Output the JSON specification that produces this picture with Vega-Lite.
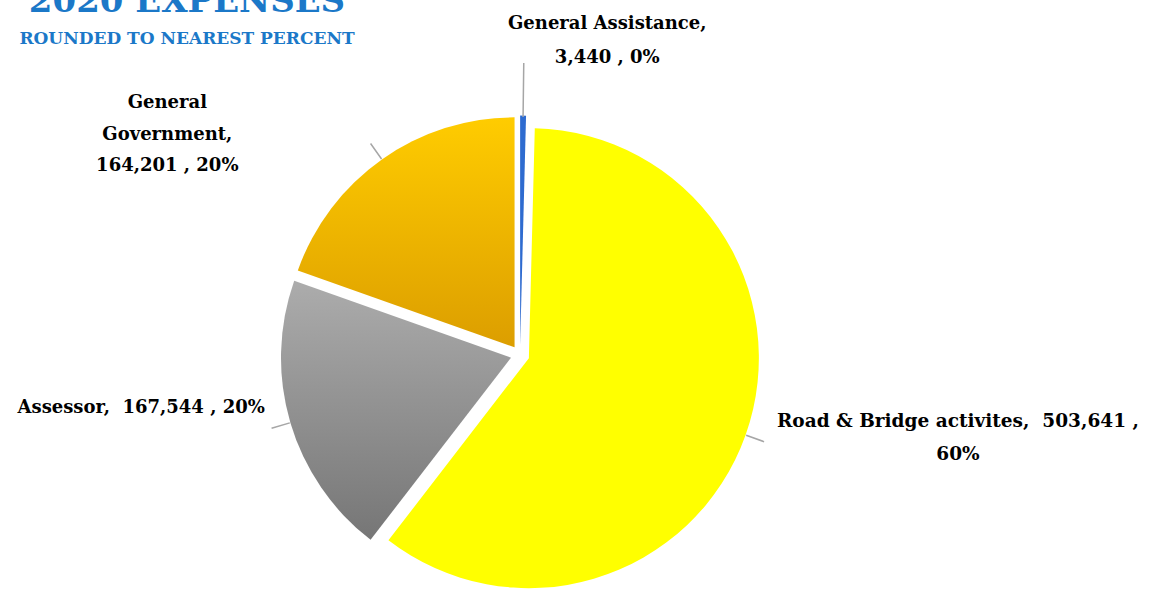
{
  "$schema": "https://vega.github.io/schema/vega-lite/v6.json",
  "autosize": {"type": "none"},
  "width": 666,
  "height": 472,
  "padding": {"left": 187, "top": 119, "right": 296, "bottom": 0},
  "background": "white",
  "config": {"view": {"stroke": null}},
  "title": {
    "text": "2020 EXPENSES",
    "subtitle": "ROUNDED TO NEAREST PERCENT",
    "anchor": "start",
    "align": "center",
    "frame": "group",
    "offset": -32,
    "font": "DejaVu Serif",
    "fontSize": 34,
    "fontWeight": "bold",
    "color": "#1b78c8",
    "subtitleFont": "DejaVu Serif",
    "subtitleFontSize": 17,
    "subtitleFontWeight": "bold",
    "subtitleColor": "#1b78c8",
    "subtitlePadding": 12
  },
  "data": {
    "values": [
      {"category": "General Assistance", "value": 3440, "order": 1},
      {"category": "Road & Bridge activites", "value": 503641, "order": 2},
      {"category": "Assessor", "value": 167544, "order": 3},
      {"category": "General Government", "value": 164201, "order": 4}
    ]
  },
  "transform": [
    {"stack": "value", "groupby": [], "sort": [{"field": "order", "order": "ascending"}], "as": ["v0", "v1"]},
    {"joinaggregate": [{"op": "sum", "field": "value", "as": "total"}]},
    {"calculate": "(datum.v0 + datum.v1) / 2", "as": "mid"},
    {"calculate": "format(datum.value / datum.total, '.0%')", "as": "pct"},
    {"calculate": "format(datum.value, ',')", "as": "vfmt"}
  ],
  "layer": [
    {
      "transform": [{"filter": "datum.order == 1"}],
      "mark": {"type": "arc", "radius": 230, "xOffset": 0.12, "yOffset": -9.4, "color": "#2e6bd0"},
      "encoding": {"theta": {"field": "v1", "type": "quantitative", "stack": null}, "theta2": {"field": "v0"}}
    },
    {
      "transform": [{"filter": "datum.order == 2"}],
      "mark": {"type": "arc", "radius": 230, "xOffset": 8.87, "yOffset": 3.14, "color": "#ffff00"},
      "encoding": {"theta": {"field": "v1", "type": "quantitative", "stack": null}, "theta2": {"field": "v0"}}
    },
    {
      "transform": [{"filter": "datum.order == 3"}],
      "mark": {"type": "arc", "radius": 230, "xOffset": -9.01, "yOffset": 2.65,
        "color": {"gradient": "linear", "x1": 0, "y1": 0, "x2": 0, "y2": 1,
          "stops": [{"offset": 0, "color": "#acacac"}, {"offset": 1, "color": "#767676"}]}},
      "encoding": {"theta": {"field": "v1", "type": "quantitative", "stack": null}, "theta2": {"field": "v0"}}
    },
    {
      "transform": [{"filter": "datum.order == 4"}],
      "mark": {"type": "arc", "radius": 230, "xOffset": -5.43, "yOffset": -7.67,
        "color": {"gradient": "linear", "x1": 0, "y1": 0, "x2": 0, "y2": 1,
          "stops": [{"offset": 0, "color": "#ffcc00"}, {"offset": 1, "color": "#dc9e00"}]}},
      "encoding": {"theta": {"field": "v1", "type": "quantitative", "stack": null}, "theta2": {"field": "v0"}}
    },
    {
      "transform": [{"filter": "datum.order == 1"}],
      "mark": {"type": "arc", "filled": false, "color": "#a6a6a6", "strokeWidth": 1.5, "radius": 292, "radius2": 238},
      "encoding": {"theta": {"field": "mid", "type": "quantitative", "stack": null}, "theta2": {"field": "mid"}}
    },
    {
      "transform": [{"filter": "datum.order > 1"}],
      "mark": {"type": "arc", "filled": false, "color": "#a6a6a6", "strokeWidth": 1.5, "radius": 259, "radius2": 240},
      "encoding": {"theta": {"field": "mid", "type": "quantitative", "stack": null}, "theta2": {"field": "mid"}}
    },
    {
      "transform": [{"filter": "datum.order == 1"}, {"calculate": "datum.category + ',\\n' + datum.vfmt + ' , ' + datum.pct", "as": "label"}],
      "mark": {"type": "text", "radius": 331, "dx": 83, "align": "center", "baseline": "middle", "lineBreak": "\n", "lineHeight": 34, "font": "DejaVu Serif", "fontWeight": "bold", "fontSize": 18, "color": "black"},
      "encoding": {"theta": {"field": "mid", "type": "quantitative", "stack": null}, "text": {"field": "label"}}
    },
    {
      "transform": [{"filter": "datum.order == 2"}, {"calculate": "datum.category + ',\u00a0 ' + datum.vfmt + ' ,\\n' + datum.pct", "as": "label"}],
      "mark": {"type": "text", "radius": 244, "dx": 208, "dy": -16, "align": "center", "baseline": "middle", "lineBreak": "\n", "lineHeight": 33, "font": "DejaVu Serif", "fontWeight": "bold", "fontSize": 18.5, "color": "black"},
      "encoding": {"theta": {"field": "mid", "type": "quantitative", "stack": null}, "text": {"field": "label"}}
    },
    {
      "transform": [{"filter": "datum.order == 3"}, {"calculate": "datum.category + ',\u00a0 ' + datum.vfmt + ' , ' + datum.pct", "as": "label"}],
      "mark": {"type": "text", "radius": 266, "dy": -22, "align": "right", "baseline": "middle", "font": "DejaVu Serif", "fontWeight": "bold", "fontSize": 18, "color": "black"},
      "encoding": {"theta": {"field": "mid", "type": "quantitative", "stack": null}, "text": {"field": "label"}}
    },
    {
      "transform": [{"filter": "datum.order == 4"}, {"calculate": "'General\\nGovernment,\\n' + datum.vfmt + ' , ' + datum.pct", "as": "label"}],
      "mark": {"type": "text", "radius": 308, "dx": -175, "align": "center", "baseline": "middle", "lineBreak": "\n", "lineHeight": 31.5, "font": "DejaVu Serif", "fontWeight": "bold", "fontSize": 18, "color": "black"},
      "encoding": {"theta": {"field": "mid", "type": "quantitative", "stack": null}, "text": {"field": "label"}}
    }
  ]
}
